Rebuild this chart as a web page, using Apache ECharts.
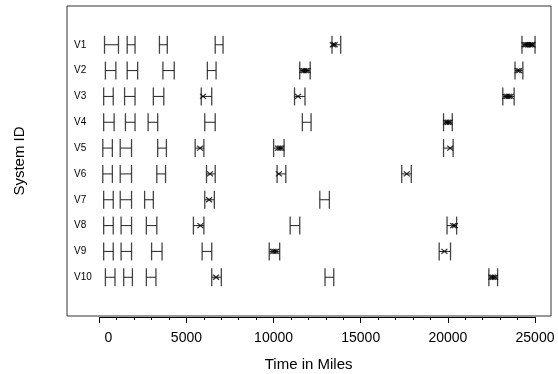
<!DOCTYPE html>
<html>
<head>
<meta charset="utf-8">
<script src="https://cdn.jsdelivr.net/npm/echarts@6/dist/echarts.min.js"></script>
<style>
  html, body { margin: 0; padding: 0; background: #fff; }
  #chart { width: 558px; height: 374px; }
</style>
</head>
<body>
<div id="chart"></div>
<script>
// rows, top to bottom (blank slots pad the top and bottom of the box)
const systems = ['', 'V1', 'V2', 'V3', 'V4', 'V5', 'V6', 'V7', 'V8', 'V9', 'V10', '']
const xTicks = [0, 5000, 10000, 15000, 20000, 25000]

// inspection intervals [start, end] in miles
const v1Intervals = [[300, 1100], [1600, 2050], [3450, 3900], [6650, 7100], [13350, 13850], [24250, 25000]]
const v2Intervals = [[350, 950], [1600, 2200], [3650, 4300], [6200, 6700], [11500, 12100], [23850, 24300]]
const v3Intervals = [[250, 800], [1450, 2050], [3100, 3700], [5850, 6450], [11200, 11800], [23150, 23800]]
const v4Intervals = [[250, 850], [1500, 2050], [2800, 3350], [6050, 6650], [11650, 12150], [19750, 20250]]
const v5Intervals = [[200, 750], [1200, 1850], [3350, 3850], [5500, 6000], [10000, 10600], [19750, 20300]]
const v6Intervals = [[200, 750], [1200, 1850], [3300, 3800], [6150, 6650], [10200, 10700], [17350, 17900]]
const v7Intervals = [[250, 800], [1200, 1850], [2600, 3100], [6050, 6600], [12650, 13200]]
const v8Intervals = [[250, 800], [1250, 1850], [2700, 3300], [5400, 6000], [10950, 11500], [19950, 20500]]
const v9Intervals = [[250, 800], [1250, 1850], [3000, 3600], [5900, 6450], [9750, 10350], [19500, 20150]]
const v10Intervals = [[350, 900], [1400, 1900], [2700, 3250], [6450, 7000], [12950, 13450], [22350, 22850]]

// failure times (x marks) in miles
const v1Events = [13400, 13500, 24400, 24500, 24600, 24700, 24800, 24850]
const v2Events = [11650, 11750, 11850, 11950, 24000, 24100]
const v3Events = [5950, 11400, 23300, 23400, 23500, 23600]
const v4Events = [19900, 20000, 20100]
const v5Events = [5780, 10250, 10350, 10450, 20130]
const v6Events = [6350, 10300, 17640]
const v7Events = [6300]
const v8Events = [5800, 20300, 20400]
const v9Events = [9950, 10050, 10150, 19800]
const v10Events = [6700, 22500, 22600, 22700]

const allIntervals = [v1Intervals, v2Intervals, v3Intervals, v4Intervals, v5Intervals,
  v6Intervals, v7Intervals, v8Intervals, v9Intervals, v10Intervals]
const allEvents = [v1Events, v2Events, v3Events, v4Events, v5Events,
  v6Events, v7Events, v8Events, v9Events, v10Events]

const intervalData = []
allIntervals.forEach((list, i) => {
  list.forEach(iv => intervalData.push([iv[0], iv[1], systems[i + 1]]))
})
const eventData = []
allEvents.forEach((list, i) => {
  list.forEach(t => eventData.push([t, systems[i + 1]]))
})

function renderH(params, api) {
  const a = api.coord([api.value(0), api.value(2)])
  const b = api.coord([api.value(1), api.value(2)])
  const h = 9
  const vStyle = { stroke: '#444', lineWidth: 1.3 }
  return {
    type: 'group',
    children: [
      { type: 'line', shape: { x1: a[0], y1: a[1] - h, x2: a[0], y2: a[1] + h }, style: vStyle },
      { type: 'line', shape: { x1: b[0], y1: b[1] - h, x2: b[0], y2: b[1] + h }, style: vStyle },
      { type: 'line', shape: { x1: a[0], y1: a[1], x2: b[0], y2: b[1] }, style: { stroke: '#222', lineWidth: 1 } }
    ]
  }
}

const chart = echarts.init(document.getElementById('chart'))
chart.setOption({
  animation: false,
  textStyle: { fontFamily: 'Liberation Sans, Arial, sans-serif', color: '#000' },
  grid: [
    { left: 67, top: 6, right: 7, bottom: 58, show: true, borderColor: '#333', borderWidth: 1, outerBoundsMode: 'none', containLabel: false },
    { left: 99.3, right: 23, top: 316, height: 1, outerBoundsMode: 'none', containLabel: false }
  ],
  xAxis: [{
    gridIndex: 0,
    type: 'value',
    min: -1853,
    max: 25915,
    show: false
  }, {
    gridIndex: 1,
    type: 'value',
    min: xTicks[0],
    max: xTicks[xTicks.length - 1],
    interval: 5000,
    position: 'bottom',
    axisLine: { show: true, lineStyle: { color: '#000', width: 1 } },
    axisTick: { show: true, length: 6, lineStyle: { color: '#000' } },
    minorTick: { show: true, splitNumber: 5, length: 3, lineStyle: { color: '#000' } },
    splitLine: { show: false },
    axisLabel: {
      margin: 14,
      fontSize: 14,
      color: '#000',
      formatter: v => v === 0 ? '{z|0}' : String(v),
      rich: { z: { padding: [0, 0, 0, 18], fontSize: 14, color: '#000' } }
    },
    name: 'Time in Miles',
    nameLocation: 'middle',
    nameGap: 40,
    nameTextStyle: { fontSize: 15, color: '#000', padding: [0, 17, 0, 0] }
  }],
  yAxis: [{
    gridIndex: 0,
    type: 'category',
    data: systems,
    inverse: true,
    boundaryGap: true,
    axisLine: { show: false },
    axisTick: { show: false },
    splitLine: { show: false },
    axisLabel: { inside: true, margin: 7, fontSize: 10, color: '#000' },
    name: 'System ID',
    nameLocation: 'middle',
    nameRotate: 90,
    nameGap: 40,
    nameTextStyle: { fontSize: 15, color: '#000' }
  }, {
    gridIndex: 1,
    type: 'value',
    show: false
  }],
  series: [{
    type: 'custom',
    xAxisIndex: 0,
    yAxisIndex: 0,
    renderItem: renderH,
    encode: { x: [0, 1], y: 2 },
    data: intervalData
  }, {
    type: 'scatter',
    xAxisIndex: 0,
    yAxisIndex: 0,
    symbol: 'path://M0,0L10,8M0,8L10,0',
    symbolSize: [6, 5],
    itemStyle: { color: 'none', borderColor: '#000', borderWidth: 1.2 },
    data: eventData
  }]
})
</script>
</body>
</html>
